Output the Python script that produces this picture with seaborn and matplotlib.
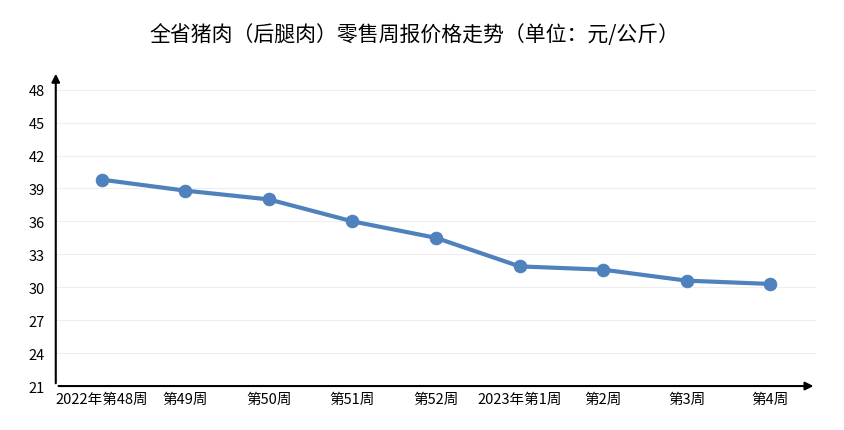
import matplotlib
matplotlib.use("Agg")
import matplotlib.pyplot as plt
import seaborn as sns
import pandas as pd

weeks = ["2022年第48周", "第49周", "第50周", "第51周", "第52周", "2023年第1周", "第2周", "第3周", "第4周"]
prices = [39.8, 38.8, 38.0, 36.0, 34.5, 31.9, 31.6, 30.6, 30.3]
yticks = [21, 24, 27, 30, 33, 36, 39, 42, 45, 48]

plt.rcParams["font.family"] = "Noto Sans CJK SC"
df = pd.DataFrame({"week": range(len(weeks)), "price": prices})

fig = plt.figure(figsize=(8.45, 4.31), dpi=100)
ax = fig.add_axes([0.066, 0.102, 0.9, 0.731])
sns.lineplot(data=df, x="week", y="price", ax=ax, color="#4f81bd", lw=3,
             marker="o", markersize=9, markeredgecolor="#4f81bd")
ax.set_xlim(-0.55, 8.55)
ax.set_ylim(21, 49.7)
ax.set_yticks(yticks)
ax.set_xticks(range(len(weeks)))
ax.set_xticklabels(weeks, fontsize=10.5)
ax.tick_params(axis="y", labelsize=10.5, length=0, pad=8)
ax.tick_params(axis="x", length=0, pad=4)
for t in yticks[1:]:
    ax.axhline(t, color="#eeeeee", lw=0.8, zorder=0)
for s in ["top", "right", "left", "bottom"]:
    ax.spines[s].set_visible(False)
ax.annotate("", xy=(0, 1.0), xytext=(0, 0), xycoords="axes fraction",
            arrowprops=dict(arrowstyle="-|>", color="black", lw=1.5, mutation_scale=12))
ax.annotate("", xy=(1.0, 0), xytext=(0, 0), xycoords="axes fraction",
            arrowprops=dict(arrowstyle="-|>", color="black", lw=1.5, mutation_scale=12))
ax.set_xlabel("")
ax.set_ylabel("")
fig.suptitle("全省猪肉（后腿肉）零售周报价格走势（单位：元/公斤）", fontsize=15, y=0.945, x=0.49, fontweight="medium")
fig.savefig("out.png", dpi=100, facecolor="white")
